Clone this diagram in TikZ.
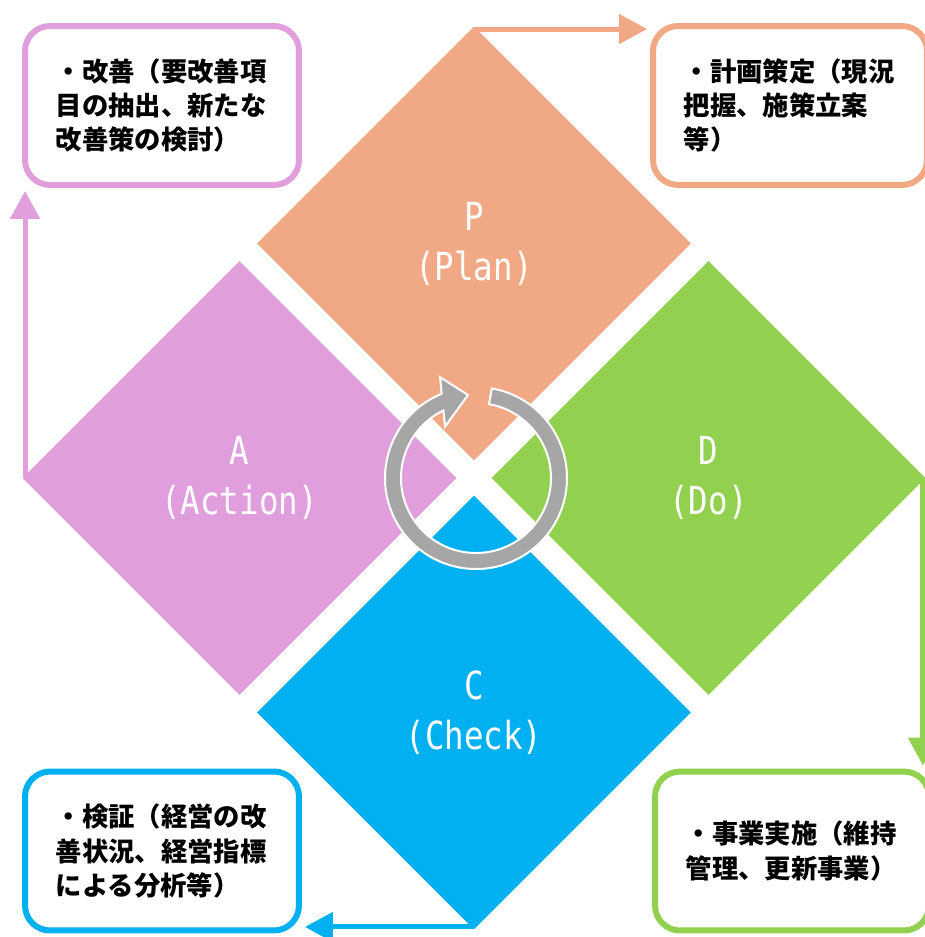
\documentclass[tikz,border=0pt]{standalone}
\usepackage{fontspec}
\usepackage{xcolor}
\usetikzlibrary{shapes.geometric,arrows.meta,calc}
\newfontfamily\jpfont{Noto Sans CJK JP}
\newfontfamily\tagfont{DejaVu Sans Mono}[FakeStretch=0.84]
\definecolor{PlanOrange}{HTML}{F0A984}
\definecolor{DoGreen}{HTML}{92D050}
\definecolor{CheckBlue}{HTML}{00B0F0}
\definecolor{ActPink}{HTML}{E09EDC}
\definecolor{RingGray}{HTML}{A6A6A6}

\tikzset{
  phase/.style={diamond, aspect=1, minimum width=8.68cm, minimum height=8.68cm,
    inner sep=0pt, outer sep=0pt, text=white, align=center,
    font=\tagfont\fontsize{22}{28.5}\selectfont},
  notebox/.style={rectangle, rounded corners=0.5cm, line width=0.12cm, fill=white,
    minimum width=5.48cm, minimum height=3.18cm, text width=121pt, align=left,
    font=\jpfont\bfseries\fontsize{15}{19.6}\selectfont},
  flow/.style={line width=0.1cm, -{Triangle[length=0.56cm, width=0.58cm]},
    shorten >=0.06cm},
}

\begin{document}
\begin{tikzpicture}[x=0.02cm, y=-0.02cm]
                \useasboundingbox (0,0) rectangle (924,937);

                % the four phases
                \node[phase, fill=PlanOrange] (plan) at (474,243.5) {P\\(Plan)};
                \node[phase, fill=ActPink] (act) at (239.5,478) {A\\(Action)};
                \node[phase, fill=DoGreen] (do) at (708.5,478) {D\\(Do)};
                \node[phase, fill=CheckBlue] (check) at (474,712.5) {C\\(Check)};

                % cycle arrow in the middle
                \coordinate (hub) at (476,478);
                \filldraw[fill=RingGray, draw=white, line width=0.04cm]
                    ($(hub)+(-80:91)$) arc[start angle=-80, end angle=247.8, radius=91]
                    -- ($(hub)+(250.4:107)$) -- ($(hub)+(264.5:83.4)$) -- ($(hub)+(239:60)$)
                    -- ($(hub)+(244.2:75)$) arc[start angle=244.2, end angle=-80, radius=75]
                    -- cycle;

                % notes
                \node[notebox, draw=ActPink] (actNote) at (162,105.5)
                    {・改善（要改善項\\目の抽出、新たな\\改善策の検討）};
                \node[notebox, draw=PlanOrange] (planNote) at (790,105.5)
                    {・計画策定（現況\\把握、施策立案\\等）};
                \node[notebox, draw=CheckBlue] (checkNote) at (162,851)
                    {・検証（経営の改\\善状況、経営指標\\による分析等）};
                \node[notebox, draw=DoGreen] (doNote) at (792,851)
                    {・事業実施（維持\\管理、更新事業）};

                \draw[flow, PlanOrange] ($(plan.north)+(0,2.5)$) -- ($(plan.north -| planNote.west)+(0,2.5)$);
                \draw[flow, DoGreen] ($(do.east)+(-2.5,0)$) -- ($(do.east |- doNote.north)+(-2.5,0)$);
                \draw[flow, CheckBlue] ($(check.south)+(0,-2.5)$) -- ($(check.south -| checkNote.east)+(0,-2.5)$);
                \draw[flow, ActPink] ($(act.west)+(2.5,0)$) -- ($(act.west |- actNote.south)+(2.5,0)$);
            \end{tikzpicture}
\end{document}
